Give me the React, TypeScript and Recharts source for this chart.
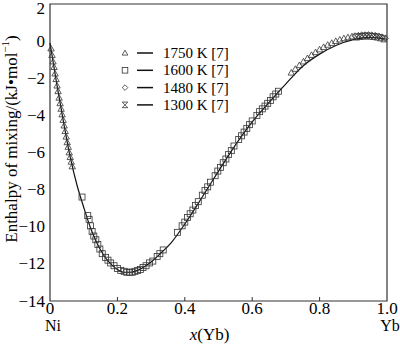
import { ComposedChart, Customized, Line, ReferenceArea, Scatter, XAxis, YAxis } from "recharts"

const FONT = '"Liberation Serif", "Times New Roman", serif'
const INK = "#333333"

const xTicks = [0, 0.2, 0.4, 0.6, 0.8, 1]
const yTicks = [-14, -12, -10, -8, -6, -4, -2, 0, 2]
const seriesNames = ["1750 K [7]", "1600 K [7]", "1480 K [7]", "1300 K [7]"]

// fitted curve
const curveX = [0, 0.02, 0.04, 0.06, 0.08, 0.1, 0.12, 0.14, 0.16, 0.18, 0.2, 0.22, 0.24, 0.26, 0.28, 0.3, 0.33, 0.36, 0.4, 0.45, 0.5, 0.55, 0.6, 0.65, 0.7, 0.75, 0.8, 0.85, 0.9, 0.95, 1]
const curveY = [-0.1, -2.3, -4.35, -6.25, -7.75, -8.95, -10.05, -10.9, -11.55, -12.0, -12.3, -12.45, -12.45, -12.35, -12.15, -11.9, -11.4, -10.85, -9.85, -8.45, -7.0, -5.6, -4.35, -3.3, -2.3, -1.35, -0.7, -0.22, 0.08, 0.2, 0.1]

// 1750 K
const triX = [0.003, 0.006, 0.009, 0.012, 0.015, 0.018, 0.021, 0.024, 0.027, 0.03, 0.033, 0.036, 0.039, 0.042, 0.045, 0.048, 0.051, 0.054, 0.057, 0.06, 0.063, 0.066,
  0.716, 0.728, 0.74, 0.752, 0.764, 0.776, 0.788, 0.8, 0.812, 0.824, 0.836, 0.848, 0.86, 0.872, 0.884, 0.896]
const triY = [-0.4, -0.75, -1.1, -1.4, -1.75, -2.05, -2.4, -2.7, -3.05, -3.35, -3.65, -3.95, -4.25, -4.55, -4.85, -5.15, -5.45, -5.7, -6.0, -6.25, -6.5, -6.75,
  -1.7, -1.5, -1.3, -1.1, -0.92, -0.75, -0.6, -0.45, -0.32, -0.2, -0.1, 0.0, 0.08, 0.15, 0.2, 0.25]

// 1600 K
const sqX = [0.095, 0.112, 0.116, 0.12, 0.125, 0.13, 0.136, 0.142, 0.148, 0.155, 0.165, 0.172, 0.18, 0.19, 0.2, 0.21, 0.22, 0.228, 0.236, 0.244, 0.252, 0.26, 0.268, 0.276, 0.285, 0.295, 0.305, 0.318, 0.326, 0.336,
  0.378, 0.392, 0.4, 0.408, 0.416, 0.424, 0.432, 0.44, 0.452, 0.46, 0.468, 0.476, 0.49, 0.498, 0.506, 0.514, 0.522, 0.53, 0.538, 0.546, 0.56, 0.568, 0.576, 0.584, 0.592, 0.6, 0.614, 0.622, 0.63, 0.638, 0.646, 0.654, 0.662, 0.67, 0.678]
const sqY = [-8.4, -9.4, -9.6, -9.95, -10.25, -10.5, -10.7, -10.95, -11.2, -11.45, -11.65, -11.8, -11.95, -12.1, -12.25, -12.35, -12.4, -12.45, -12.45, -12.45, -12.4, -12.35, -12.3, -12.2, -12.1, -11.95, -11.85, -11.6, -11.45, -11.25,
  -10.3, -9.95, -9.75, -9.5, -9.3, -9.1, -8.85, -8.65, -8.3, -8.05, -7.85, -7.6, -7.25, -7.0, -6.8, -6.55, -6.35, -6.1, -5.9, -5.65, -5.3, -5.1, -4.9, -4.7, -4.5, -4.3, -4.0, -3.8, -3.65, -3.5, -3.35, -3.2, -3.0, -2.85, -2.7]

// 1480 K
const diaX = [0.905, 0.915, 0.925, 0.935, 0.945, 0.955, 0.965, 0.975, 0.985, 0.995]
const diaY = [0.28, 0.3, 0.32, 0.33, 0.33, 0.32, 0.3, 0.27, 0.22, 0.15]

// 1300 K
const hgX = [0.91, 0.92, 0.93, 0.94, 0.95, 0.96, 0.97, 0.98, 0.99]
const hgY = [0.22, 0.25, 0.27, 0.28, 0.27, 0.25, 0.22, 0.18, 0.12]

const pairs = (xs: number[], ys: number[]) => xs.map((x, i) => ({ x, y: ys[i] }))
const curve = pairs(curveX, curveY)
const tri = pairs(triX, triY)
const sq = pairs(sqX, sqY)
const dia = pairs(diaX, diaY)
const hg = pairs(hgX, hgY)

const mk = { fill: "none", stroke: INK, strokeWidth: 0.8 }

function triPath(cx: number, cy: number, r: number) {
  return <path d={`M${cx},${cy - r} L${cx + r},${cy + r * 0.75} L${cx - r},${cy + r * 0.75} Z`} {...mk} />
}
function sqPath(cx: number, cy: number, r: number) {
  return <rect x={cx - r} y={cy - r} width={r * 2} height={r * 2} {...mk} />
}
function diaPath(cx: number, cy: number, r: number) {
  return <path d={`M${cx},${cy - r} L${cx + r},${cy} L${cx},${cy + r} L${cx - r},${cy} Z`} {...mk} />
}
function hgPath(cx: number, cy: number, r: number) {
  return <path d={`M${cx - r},${cy - r} L${cx + r},${cy - r} L${cx - r},${cy + r} L${cx + r},${cy + r} Z`} {...mk} />
}
const shapes = [triPath, sqPath, diaPath, hgPath]

const fmtY = (v: number) => (v < 0 ? `\u2212${-v}` : `${v}`)

function XTick(props: any) {
  const { x, y, payload } = props
  const v = payload.value as number
  const label = v === 0 ? "0" : v === 1 ? "1.0" : v.toFixed(1)
  const end = v === 0 ? "Ni" : v === 1 ? "Yb" : null
  return (
    <g>
      {v > 0 && v < 1 && <line x1={x} x2={x} y1={y} y2={y - 4} stroke={INK} />}
      <text x={x} y={y + 13} textAnchor="middle" fontSize={17} fontFamily={FONT} fill="#000">{label}</text>
      {end && <text x={x + 3} y={y + 30} textAnchor="middle" fontSize={16} fontFamily={FONT} fill="#000">{end}</text>}
    </g>
  )
}

function YTick(props: any) {
  const { x, y, payload } = props
  const v = payload.value as number
  // top label sits a little lower so it stays inside the picture
  const dy = v === 2 ? 4 : 0
  return (
    <text x={x} y={y + dy} textAnchor="end" dominantBaseline="central" fontSize={17} fontFamily={FONT} fill="#000">
      {fmtY(v)}
    </text>
  )
}

function LegendBox() {
  return (
    <g>
      {seriesNames.map((name, i) => {
        const cy = 53 + i * 17.3
        return (
          <g key={name}>
            {shapes[i](125, cy, 2.8)}
            <line x1={137} x2={153} y1={cy} y2={cy} stroke="#111" strokeWidth={1.5} />
            <text x={163} y={cy} dominantBaseline="central" fontSize={15} fontFamily={FONT} fill="#000">{name}</text>
          </g>
        )
      })}
    </g>
  )
}

export default function App() {
  return (
    <div style={{ position: "absolute", left: 0, top: 0, background: "#fff" }}>
      <ComposedChart width={400} height={345} margin={{ top: 4, right: 13, bottom: 0, left: 0 }}>
        <XAxis
          dataKey="x"
          type="number"
          domain={[0, 1]}
          ticks={xTicks}
          height={44}
          axisLine={false}
          tickLine={false}
          tickSize={0}
          tickMargin={0}
          tick={<XTick />}
          interval={0}
          label={{
            content: (p: any) => (
              <text x={p.viewBox.x + p.viewBox.width / 2 - 9} y={p.viewBox.y + 39} textAnchor="middle" fontSize={17} fontFamily={FONT} fill="#000">
                <tspan fontStyle="italic">x</tspan>(Yb)
              </text>
            ),
          }}
        />
        <YAxis
          dataKey="y"
          type="number"
          domain={[-14, 2]}
          ticks={yTicks}
          width={50}
          axisLine={false}
          tickLine={false}
          tickSize={0}
          tickMargin={5}
          interval={0}
          tick={<YTick />}
          label={{
            content: () => (
              <text x={11} y={139} transform="rotate(-90, 11, 139)" textAnchor="middle" dominantBaseline="central" fontSize={17} fontFamily={FONT} fill="#000">
                Enthalpy of mixing/(kJ•mol<tspan fontSize={11} dy={-6}>{"\u22121"}</tspan><tspan dy={6}>)</tspan>
              </text>
            ),
          }}
        />
        <ReferenceArea x1={0} x2={1} y1={-14} y2={2} fill="none" stroke={INK} strokeWidth={1.2} ifOverflow="visible" />
        <Line data={curve} dataKey="y" type="monotone" dot={false} stroke="#111" strokeWidth={1.2} isAnimationActive={false} />
        <Scatter data={tri} dataKey="y" shape={(p: any) => triPath(p.cx, p.cy, 3.2)} isAnimationActive={false} />
        <Scatter data={sq} dataKey="y" shape={(p: any) => sqPath(p.cx, p.cy, 3)} isAnimationActive={false} />
        <Scatter data={dia} dataKey="y" shape={(p: any) => diaPath(p.cx, p.cy, 3.2)} isAnimationActive={false} />
        <Scatter data={hg} dataKey="y" shape={(p: any) => hgPath(p.cx, p.cy, 3)} isAnimationActive={false} />
        <Customized component={LegendBox} />
      </ComposedChart>
    </div>
  )
}
